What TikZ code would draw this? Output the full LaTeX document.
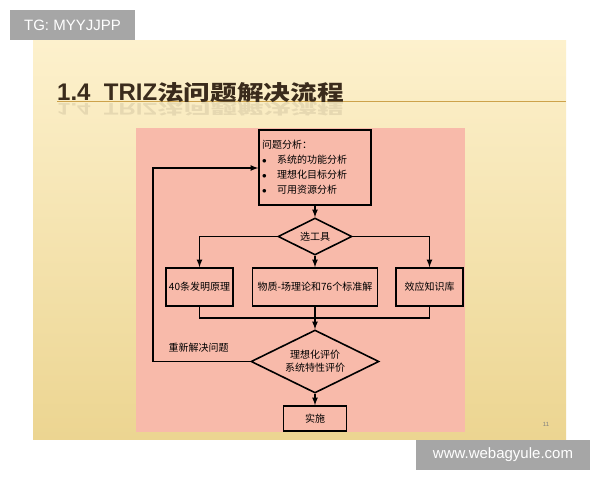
\documentclass[tikz,border=0pt]{standalone}
\usepackage{fontspec}
\usepackage{graphicx}
\setmainfont{Liberation Sans}
\newfontfamily\cjk{Noto Sans CJK SC}
\usetikzlibrary{positioning,shapes.geometric}
\definecolor{slidetop}{RGB}{253,241,205}
\definecolor{slidebot}{RGB}{236,213,145}
\definecolor{slidepink}{RGB}{248,186,170}
\definecolor{titlebrown}{RGB}{58,43,28}
\definecolor{titleline}{RGB}{205,162,75}
\definecolor{taggray}{RGB}{166,166,166}
\newcommand{\titletext}{{\bfseries\fontsize{24}{24}\selectfont 1.4\ \ TRIZ}{\cjk\bfseries\fontsize{21}{21}\selectfont\scalebox{1.27}[1]{法问题解决流程}}}

\begin{document}
\begin{tikzpicture}[x=1pt, y=-1pt, >=latex, every node/.style={font=\cjk\fontsize{10}{15}\selectfont}]
\tikzstyle{box}=[draw, rectangle, line width=1.6pt, inner sep=0pt]
\tikzstyle{choice}=[draw, diamond, aspect=2, line width=1.6pt, inner sep=0pt, align=center]
\tikzstyle{flow}=[line width=1.6pt]
\tikzstyle{tag}=[fill=taggray, text=white, inner sep=0pt, font=\normalfont\fontsize{15}{15}\selectfont]

\useasboundingbox (0,0) rectangle (600,480);
\fill[white] (0,0) rectangle (600,480);
\shade[top color=slidetop, bottom color=slidebot] (33,40) rectangle (566,439);

% title
\draw[titleline, line width=1pt] (57,101) -- (566,101);
\node[anchor=base west, inner sep=0pt, text=titlebrown, font=\normalfont] (title) at (57,100) {\titletext};
\node[anchor=north west, inner sep=0pt, text=titlebrown, opacity=.1, font=\normalfont] (mirror) at (57,102) {\scalebox{1}[-0.7]{\titletext}};

\fill[slidepink] (136,128) rectangle (465,432);

% flow chart
\node[box, minimum width=112pt, minimum height=75pt, text width=106pt, inner xsep=3pt, align=left] (prob) at (315,167.5)
  {问题分析：\\
   \makebox[15pt][l]{\small$\bullet$}系统的功能分析\\
   \makebox[15pt][l]{\small$\bullet$}理想化目标分析\\
   \makebox[15pt][l]{\small$\bullet$}可用资源分析};
\node[choice, minimum width=74pt, minimum height=37pt] (tool) at (315,236.5) {选工具};
\node[box, minimum width=67pt, minimum height=38pt] (law) at (199.5,287) {40条发明原理};
\node[box, minimum width=125pt, minimum height=38pt] (sfield) at (315,287) {物质-场理论和76个标准解};
\node[box, minimum width=67pt, minimum height=38pt] (effect) at (429.5,287) {效应知识库};
\node[choice, minimum width=128pt, minimum height=63pt, font=\cjk\fontsize{10}{13}\selectfont] (judge) at (315,361.5) {理想化评价\\系统特性评价};
\node[box, minimum width=63pt, minimum height=25pt] (act) at (315,418.5) {实施};
\node (retry) at (198.5,348) {重新解决问题};

\coordinate (merge) at (315,318);
\coordinate (loop) at (153,168);

\draw[flow,->] (prob) -- (tool);
\draw[flow,->] (tool.west) -| (law);
\draw[flow,->] (tool) -- (sfield);
\draw[flow,->] (tool.east) -| (effect);
\draw[flow] (law) |- (merge) -| (effect);
\draw[flow,->] (sfield) -- (judge);
\draw[flow,->] (judge.west) -| (loop) -- (prob.west |- loop);
\draw[flow,->] (judge) -- (act);

\node[text=gray, font=\normalfont\fontsize{6}{6}\selectfont] (page) at (546,424) {11};

% watermarks
\node[tag, minimum width=125pt, minimum height=30pt] (tg) at (72.5,25) {TG: MYYJJPP};
\node[tag, minimum width=174pt, minimum height=30pt] (site) at (503,455) {www.webagyule.com};
\end{tikzpicture}
\end{document}
